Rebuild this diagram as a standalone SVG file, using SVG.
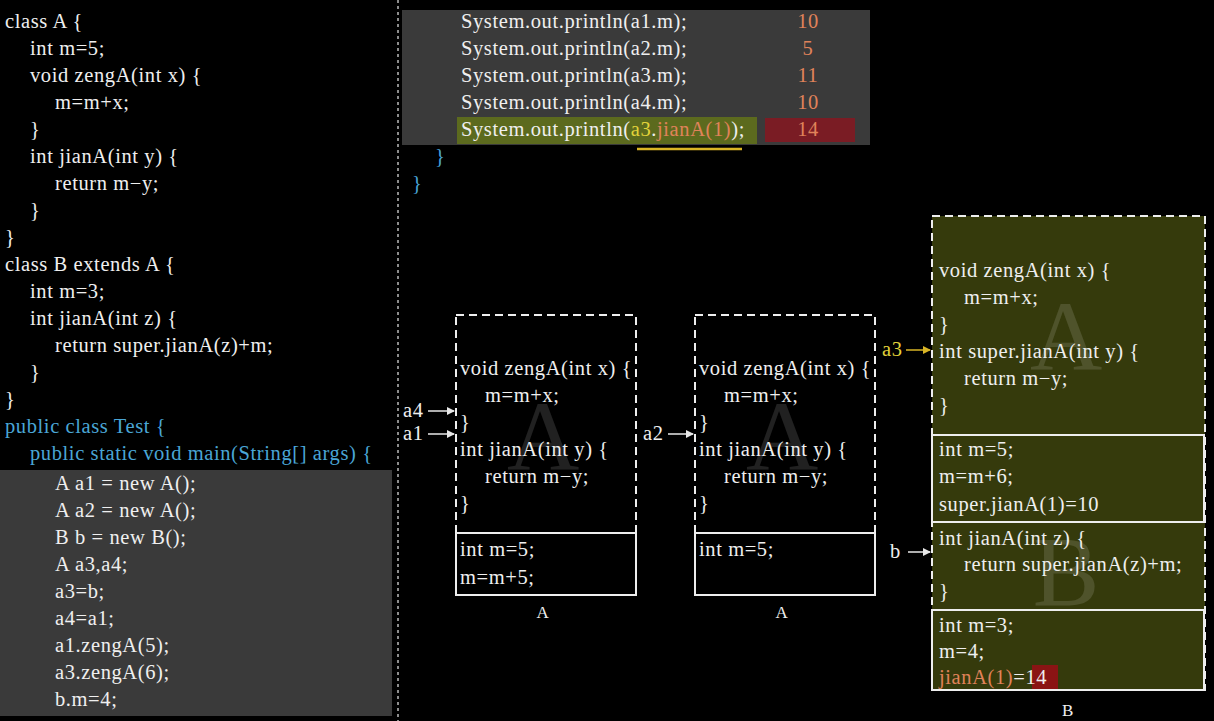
<svg xmlns="http://www.w3.org/2000/svg" width="1214" height="721" viewBox="0 0 1214 721">
<defs>
<marker id="ah" markerWidth="8" markerHeight="8" refX="7" refY="4" orient="auto" markerUnits="userSpaceOnUse"><path d="M0,0 L8,4 L0,8 Z" fill="#e8e8e8"/></marker>
<marker id="ay" markerWidth="8" markerHeight="8" refX="7" refY="4" orient="auto" markerUnits="userSpaceOnUse"><path d="M0,0 L8,4 L0,8 Z" fill="#d9b526"/></marker>
</defs>
<style>
text{font-family:"Liberation Serif",serif;font-size:20.5px;letter-spacing:0.6px;fill:#efefef}
.b{fill:#4aa6d6}
.o{fill:#e0835a}
.y{fill:#e2d23a}
.wm{font-size:100px;letter-spacing:0;fill:#ffffff;fill-opacity:0.13}
.dash{fill:none;stroke:#eeeeee;stroke-width:2;stroke-dasharray:8,5}
.solid{fill:none;stroke:#eeeeee;stroke-width:2}
.lbl{font-size:17px}
</style>
<rect width="1214" height="721" fill="#000"/>
<line x1="398" y1="0" x2="398" y2="721" stroke="#bbb" stroke-width="1.5" stroke-dasharray="3,3"/>
<g id="code-left">
<rect x="0" y="470" width="392" height="246" fill="#3a3a3a"/>
<text x="5" y="28">class A {</text>
<text x="30" y="55">int m=5;</text>
<text x="30" y="82">void zengA(int x) {</text>
<text x="55" y="109">m=m+x;</text>
<text x="30" y="136">}</text>
<text x="30" y="163">int jianA(int y) {</text>
<text x="55" y="190">return  m−y;</text>
<text x="30" y="217">}</text>
<text x="5" y="244">}</text>
<text x="5" y="271">class B extends A {</text>
<text x="30" y="298">int m=3;</text>
<text x="30" y="325">int jianA(int z) {</text>
<text x="55" y="352">return super.jianA(z)+m;</text>
<text x="30" y="379">}</text>
<text x="5" y="406">}</text>
<text x="5" y="433" class="b">public class Test {</text>
<text x="30" y="460" class="b">public static void main(String[] args) {</text>
<text x="55" y="490">A  a1 = new A();</text>
<text x="55" y="517">A  a2 = new A();</text>
<text x="55" y="544">B  b = new B();</text>
<text x="55" y="571">A a3,a4;</text>
<text x="55" y="598">a3=b;</text>
<text x="55" y="625">a4=a1;</text>
<text x="55" y="652">a1.zengA(5);</text>
<text x="55" y="679">a3.zengA(6);</text>
<text x="55" y="706">b.m=4;</text>
</g>
<g id="code-top">
<rect x="402" y="10" width="468" height="135" fill="#3a3a3a"/>
<rect x="457" y="117" width="300" height="27" fill="#5c6a1e"/>
<rect x="765" y="118" width="90" height="24" fill="#7a1c24"/>
<text x="461" y="28">System.out.println(a1.m);</text>
<text x="461" y="55">System.out.println(a2.m);</text>
<text x="461" y="82">System.out.println(a3.m);</text>
<text x="461" y="109">System.out.println(a4.m);</text>
<text x="461" y="136">System.out.println(<tspan class="y">a3</tspan>.<tspan class="o">jianA(1)</tspan>);</text>
<text x="808" y="28" class="o" text-anchor="middle">10</text>
<text x="808" y="55" class="o" text-anchor="middle">5</text>
<text x="808" y="82" class="o" text-anchor="middle">11</text>
<text x="808" y="109" class="o" text-anchor="middle">10</text>
<text x="808" y="136" class="o" text-anchor="middle">14</text>
<line x1="637" y1="149" x2="742" y2="149" stroke="#d9b526" stroke-width="2.5"/>
<text x="435" y="163" class="b">}</text>
<text x="412" y="190" class="b">}</text>
</g>
<g id="objA1">
<text x="543" y="470" class="wm" text-anchor="middle">A</text>
<rect x="456" y="315" width="180" height="280" class="dash"/>
<rect x="456" y="533" width="180" height="62" class="solid"/>
<text x="460" y="375">void zengA(int x) {</text>
<text x="485" y="402">m=m+x;</text>
<text x="460" y="429">}</text>
<text x="460" y="456">int jianA(int y) {</text>
<text x="485" y="483">return  m−y;</text>
<text x="460" y="510">}</text>
<text x="460" y="556">int m=5;</text>
<text x="460" y="584">m=m+5;</text>
<text x="543" y="618" class="lbl" text-anchor="middle">A</text>
</g>
<g id="objA2">
<text x="782" y="470" class="wm" text-anchor="middle">A</text>
<rect x="695" y="315" width="180" height="280" class="dash"/>
<rect x="695" y="533" width="180" height="62" class="solid"/>
<text x="699" y="375">void zengA(int x) {</text>
<text x="724" y="402">m=m+x;</text>
<text x="699" y="429">}</text>
<text x="699" y="456">int jianA(int y) {</text>
<text x="724" y="483">return  m−y;</text>
<text x="699" y="510">}</text>
<text x="699" y="556">int m=5;</text>
<text x="782" y="618" class="lbl" text-anchor="middle">A</text>
</g>
<g id="objB">
<rect x="932" y="216" width="273" height="474" fill="#353a0c"/>
<text x="1066" y="370" class="wm" text-anchor="middle">A</text>
<text x="1066" y="605" class="wm" text-anchor="middle">B</text>
<rect x="932" y="216" width="273" height="474" class="dash"/>
<rect x="932" y="435" width="272" height="87" class="solid"/>
<rect x="932" y="610" width="272" height="80" class="solid"/>
<text x="939" y="277">void zengA(int x) {</text>
<text x="964" y="304">m=m+x;</text>
<text x="939" y="331">}</text>
<text x="939" y="358">int super.jianA(int y) {</text>
<text x="964" y="385">return  m−y;</text>
<text x="939" y="412">}</text>
<text x="939" y="456">int m=5;</text>
<text x="939" y="483">m=m+6;</text>
<text x="939" y="511">super.jianA(1)=10</text>
<text x="939" y="545">int jianA(int z) {</text>
<text x="964" y="571">return super.jianA(z)+m;</text>
<text x="939" y="598">}</text>
<text x="939" y="632">int m=3;</text>
<text x="939" y="658">m=4;</text>
<rect x="1032" y="665" width="26" height="24" fill="#8a1414"/>
<text x="939" y="684"><tspan class="o">jianA(1)</tspan>=14</text>
<text x="1068" y="716" class="lbl" text-anchor="middle">B</text>
</g>
<g id="connectors">
<text x="403" y="417">a4</text>
<line x1="428" y1="411" x2="454" y2="411" stroke="#e8e8e8" stroke-width="1.5" marker-end="url(#ah)"/>
<text x="403" y="440">a1</text>
<line x1="428" y1="434" x2="454" y2="434" stroke="#e8e8e8" stroke-width="1.5" marker-end="url(#ah)"/>
<text x="643" y="440">a2</text>
<line x1="668" y1="434" x2="693" y2="434" stroke="#e8e8e8" stroke-width="1.5" marker-end="url(#ah)"/>
<text x="882" y="356" class="y">a3</text>
<line x1="906" y1="350" x2="930" y2="350" stroke="#d9b526" stroke-width="1.5" marker-end="url(#ay)"/>
<text x="890" y="558">b</text>
<line x1="908" y1="552" x2="930" y2="552" stroke="#e8e8e8" stroke-width="1.5" marker-end="url(#ah)"/>
</g>
</svg>
